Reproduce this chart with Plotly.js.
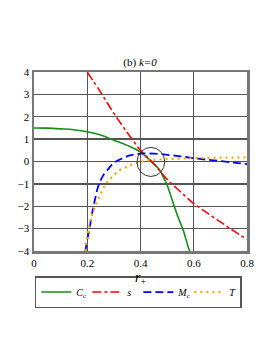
<!DOCTYPE html>
<html>
<head>
<meta charset="utf-8">
<script src="https://cdn.plot.ly/plotly-3.0.1.min.js"></script>
<style>html,body{margin:0;padding:0;background:#fff;}#chart{width:273px;height:353px;}</style>
</head>
<body>
<div id="chart"></div>
<script>
// Cc (green solid)
const rCc = [0, 0.05, 0.1, 0.15, 0.2, 0.25, 0.3, 0.35, 0.4, 0.44, 0.47, 0.49, 0.5, 0.52, 0.54, 0.56, 0.58, 0.585];
const Cc  = [1.5, 1.49, 1.46, 1.42, 1.33, 1.18, 0.95, 0.72, 0.42, 0.0, -0.35, -0.8, -1.05, -1.75, -2.45, -3.05, -3.85, -4.0];
// s (red dash-dot)
const rS = [0.2, 0.25, 0.3, 0.35, 0.4, 0.45, 0.5, 0.55, 0.6, 0.65, 0.7, 0.75, 0.8];
const S  = [4.0, 3.1, 2.15, 1.3, 0.5, -0.1, -0.8, -1.35, -1.88, -2.3, -2.7, -3.1, -3.48];
// Mc (blue dashed)
const rMc = [0.193, 0.2, 0.21, 0.22, 0.23, 0.24, 0.25, 0.26, 0.28, 0.29, 0.3, 0.32, 0.34, 0.36, 0.4, 0.45, 0.5, 0.55, 0.6, 0.65, 0.7, 0.75, 0.8];
const Mc  = [-4.0, -3.5, -2.9, -2.2, -1.65, -1.15, -0.85, -0.62, -0.32, -0.17, -0.06, 0.08, 0.18, 0.27, 0.35, 0.35, 0.3, 0.23, 0.15, 0.08, 0.02, -0.05, -0.12];
// T (orange dotted)
const rT = [0.193, 0.2, 0.21, 0.22, 0.23, 0.24, 0.25, 0.26, 0.27, 0.28, 0.3, 0.32, 0.34, 0.36, 0.38, 0.4, 0.42, 0.45, 0.5, 0.55, 0.6, 0.7, 0.8];
const T  = [-4.0, -3.4, -2.75, -2.3, -2.0, -1.7, -1.45, -1.2, -1.0, -0.85, -0.62, -0.4, -0.28, -0.17, -0.08, -0.02, 0.03, 0.07, 0.11, 0.13, 0.15, 0.17, 0.18];

const xTicks = [0, 0.2, 0.4, 0.6, 0.8];
const xTickText = ['0', '0.2', '0.4', '0.6', '0.8'];
const yTicks = [-4, -3, -2, -1, 0, 1, 2, 3, 4];
const yTickText = ['\u22124', '\u22123', '\u22122', '\u22121', '0', '1', '2', '3', '4'];
const names = ['<i>C</i><sub>c</sub>', '<i>s</i>', '<i>M</i><sub>c</sub>', '<i>T</i>'];

const font = 'Liberation Serif, Times New Roman, serif';

const traces = [
  {x: rCc, y: Cc, name: names[0], mode: 'lines', line: {color: '#1a8c1a', width: 1.6, shape: 'spline'}},
  {x: rS, y: S, name: names[1], mode: 'lines', line: {color: '#ff0000', width: 1.6, dash: 'dashdot', shape: 'spline'}},
  {x: rMc, y: Mc, name: names[2], mode: 'lines', line: {color: '#0000ff', width: 1.8, dash: '8px,4px', shape: 'spline'}},
  {x: rT, y: T, name: names[3], mode: 'lines', line: {color: '#ffa500', width: 2.2, dash: '2px,4px', shape: 'spline'}}
];

const layout = {
  width: 273, height: 353,
  margin: {l: 34, r: 26, t: 72, b: 102},
  paper_bgcolor: '#fff', plot_bgcolor: '#fff',
  font: {family: font, size: 11, color: '#000'},
  title: {text: '(b) <i>k=0</i>', font: {family: font, size: 11, color: '#000'}, x: 0.513, xanchor: 'center', y: 0.824, yanchor: 'middle', yref: 'container'},
  showlegend: true,
  legend: {orientation: 'h', x: 0.49, xanchor: 'center', y: -0.14, yanchor: 'top', entrywidth: 6, entrywidthmode: 'pixels',
           bordercolor: '#555', borderwidth: 1.5, font: {family: font, size: 10}, itemwidth: 30, tracegroupgap: 0, itemclick: false},
  xaxis: {range: [0, 0.8], tickvals: xTicks, ticktext: xTickText, showgrid: true, gridcolor: '#555', gridwidth: 1.3, zeroline: false,
          showline: true, linecolor: '#777', linewidth: 2.5, mirror: true, ticks: '', tickfont: {family: font, size: 11},
          title: {text: '<i>r</i><sub>+</sub>', font: {family: font, size: 14}, standoff: 5}},
  yaxis: {range: [-4, 4], tickvals: yTicks, ticktext: yTickText, showgrid: true, gridcolor: '#555', gridwidth: 1.3, zeroline: false,
          showline: true, linecolor: '#777', linewidth: 2.5, mirror: true, ticks: '', tickfont: {family: font, size: 11}},
  shapes: [
    {type: 'circle', xref: 'x', yref: 'y', x0: 0.387, x1: 0.491, y0: -0.67, y1: 0.63, line: {color: '#333', width: 1}}
  ]
};

Plotly.newPlot('chart', traces, layout, {displayModeBar: false, staticPlot: true});
</script>
</body>
</html>
